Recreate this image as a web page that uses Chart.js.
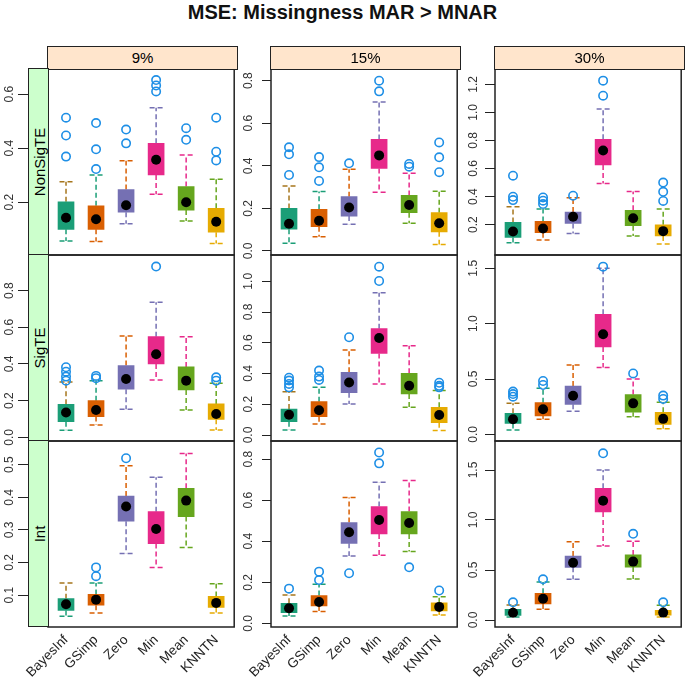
<!DOCTYPE html>
<html>
<head>
<meta charset="utf-8">
<script src="https://cdn.jsdelivr.net/npm/chart.js@4.4.0/dist/chart.umd.min.js"></script>
<style>
body { margin: 0; background: #fff; font-family: 'Liberation Sans', Arial, sans-serif; }
#fig { position: relative; width: 685px; height: 679px; overflow: hidden; }
#fig canvas { position: absolute; }
.title { position: absolute; left: 0; top: 1px; width: 685px; text-align: center; font-weight: bold; font-size: 20px; color: #111; }
.head { position: absolute; box-sizing: border-box; top: 46px; height: 24px; background: #FFE5CC; border: 1.5px solid #222; text-align: center; font-size: 15px; line-height: 21px; z-index: 2; }
.strip { position: absolute; box-sizing: border-box; left: 28px; width: 21px; height: 187px; background: #CCFFCC; border: 1.5px solid #222; z-index: 2; }
.strip span { position: absolute; left: 50%; top: 50%; transform: translate(-50%, -50%) rotate(-90deg); font-size: 15px; white-space: nowrap; }
</style>
</head>
<body>
<div id="fig"><div class="title">MSE: Missingness MAR &gt; MNAR</div></div>
<script>
const cats = ['BayesInf', 'GSimp', 'Zero', 'Min', 'Mean', 'KNNTN'];
const levels = ['9%', '15%', '30%'];
const rowNames = ['NonSigTE', 'SigTE', 'Int'];
const boxCol = ['#1B9E77', '#D95F02', '#7570B3', '#E7298A', '#66A61E', '#E6AB02'];
const upCol = ['#A6761D', '#1B9E77', '#D95F02', '#7570B3', '#E7298A', '#66A61E'];

// each row: [lower whisker, Q1, median, Q3, upper whisker]
const nonSig9 = [[0.057, 0.100, 0.143, 0.202, 0.276], [0.055, 0.100, 0.137, 0.187, 0.301], [0.121, 0.163, 0.189, 0.247, 0.354],
                 [0.230, 0.301, 0.357, 0.418, 0.550], [0.131, 0.171, 0.200, 0.258, 0.375], [0.048, 0.089, 0.128, 0.178, 0.285]];
const nonSig9Out = [[0.513, 0.447, 0.369], [0.493, 0.396, 0.323], [0.469, 0.418], [0.652, 0.632, 0.61], [0.474, 0.431], [0.513, 0.387, 0.355]];
const nonSig15 = [[0.036, 0.102, 0.128, 0.200, 0.305], [0.067, 0.114, 0.142, 0.196, 0.279], [0.125, 0.164, 0.204, 0.255, 0.384],
                  [0.276, 0.388, 0.449, 0.524, 0.700], [0.130, 0.180, 0.216, 0.261, 0.365], [0.030, 0.090, 0.130, 0.180, 0.280]];
const nonSig15Out = [[0.487, 0.454, 0.357], [0.441, 0.393, 0.329], [0.412], [0.80, 0.75], [0.409, 0.396], [0.51, 0.44, 0.37]];
const nonSig30 = [[0.071, 0.109, 0.152, 0.216, 0.328], [0.090, 0.143, 0.173, 0.223, 0.311], [0.138, 0.209, 0.257, 0.290, 0.392],
                  [0.494, 0.625, 0.729, 0.808, 1.024], [0.120, 0.193, 0.246, 0.303, 0.437], [0.063, 0.120, 0.154, 0.199, 0.311]];
const nonSig30Out = [[0.549, 0.399, 0.375], [0.394, 0.371, 0.347], [0.406], [1.226, 1.119], [], [0.50, 0.434, 0.369]];

const sig9 = [[0.038, 0.085, 0.135, 0.180, 0.302], [0.067, 0.113, 0.149, 0.200, 0.309], [0.153, 0.262, 0.318, 0.391, 0.553],
              [0.313, 0.400, 0.453, 0.549, 0.736], [0.149, 0.258, 0.309, 0.384, 0.549], [0.040, 0.098, 0.127, 0.182, 0.295]];
const sig9Out = [[0.382, 0.358, 0.331, 0.309], [0.335, 0.322], [], [0.931], [], [0.327, 0.309]];
const sig15 = [[0.033, 0.087, 0.132, 0.169, 0.282], [0.072, 0.119, 0.161, 0.217, 0.310], [0.202, 0.275, 0.341, 0.408, 0.553],
               [0.332, 0.531, 0.631, 0.692, 0.926], [0.180, 0.267, 0.321, 0.401, 0.581], [0.030, 0.080, 0.130, 0.180, 0.290]];
const sig15Out = [[0.373, 0.354, 0.332, 0.310], [0.419, 0.380, 0.358], [0.636], [1.095, 1.002], [], [0.34, 0.32, 0.31]];
const sig30 = [[0.039, 0.099, 0.136, 0.190, 0.280], [0.136, 0.166, 0.226, 0.286, 0.416], [0.208, 0.271, 0.349, 0.437, 0.627],
               [0.605, 0.789, 0.904, 1.084, 1.500], [0.160, 0.200, 0.280, 0.360, 0.500], [0.050, 0.090, 0.140, 0.200, 0.290]];
const sig30Out = [[0.386, 0.364, 0.340], [0.482, 0.446], [], [1.515], [0.55], [0.35, 0.32]];

const int9 = [[0.035, 0.053, 0.072, 0.089, 0.137], [0.045, 0.069, 0.086, 0.102, 0.137], [0.228, 0.327, 0.372, 0.404, 0.497],
              [0.185, 0.258, 0.303, 0.356, 0.462], [0.246, 0.341, 0.390, 0.428, 0.535], [0.045, 0.062, 0.076, 0.096, 0.135]];
const int9Out = [[], [0.185, 0.158], [0.52], [], [], []];
const int15 = [[0.036, 0.052, 0.073, 0.098, 0.138], [0.057, 0.085, 0.104, 0.135, 0.190], [0.328, 0.390, 0.444, 0.491, 0.613],
               [0.332, 0.436, 0.504, 0.569, 0.688], [0.350, 0.436, 0.489, 0.545, 0.696], [0.040, 0.060, 0.080, 0.100, 0.130]];
const int15Out = [[0.169], [0.252, 0.211], [0.244], [0.833, 0.780], [0.273], [0.16]];
const int30 = [[0.030, 0.045, 0.073, 0.107, 0.150], [0.107, 0.160, 0.213, 0.267, 0.380], [0.407, 0.527, 0.573, 0.640, 0.783],
               [0.740, 1.080, 1.193, 1.317, 1.500], [0.410, 0.529, 0.584, 0.651, 0.788], [0.030, 0.048, 0.074, 0.096, 0.148]];
const int30Out = [[0.177], [0.407], [], [1.667], [0.862], [0.177]];

// y axis limits and tick labels per panel
const yLim = [[0.005, 0.693], [-0.019, 0.855], [-0.016, 1.309],
              [-0.02, 0.994], [-0.039, 1.171], [-0.06, 1.62],
              [0.002, 0.573], [-0.018, 0.889], [-0.07, 1.79]];
const yTicks = [[0.2, 0.4, 0.6], [0, 0.2, 0.4, 0.6, 0.8], [0.2, 0.4, 0.6, 0.8, 1.0, 1.2],
                [0, 0.2, 0.4, 0.6, 0.8], [0, 0.2, 0.4, 0.6, 0.8, 1.0], [0, 0.5, 1.0, 1.5],
                [0.1, 0.2, 0.3, 0.4, 0.5], [0, 0.2, 0.4, 0.6, 0.8], [0, 0.5, 1.0, 1.5]];

const panels = [[nonSig9, nonSig9Out], [nonSig15, nonSig15Out], [nonSig30, nonSig30Out],
                [sig9, sig9Out], [sig15, sig15Out], [sig30, sig30Out],
                [int9, int9Out], [int15, int15Out], [int30, int30Out]];

const fig = document.getElementById('fig');
const panelLeft = [48, 271, 495], panelTop = [69, 255, 441];
const PW = 189, PH = 186;
const axisW = [48, 34, 35], tickLen = [30, 9, 10], labPad = [0, 5, 3];
const font = 'Liberation Sans';

levels.forEach((l, c) => {
  const d = document.createElement('div');
  d.className = 'head';
  d.style.left = (panelLeft[c] - 1) + 'px';
  d.style.width = (PW + 2) + 'px';
  d.textContent = l;
  fig.appendChild(d);
});
rowNames.forEach((n, r) => {
  const d = document.createElement('div');
  d.className = 'strip';
  d.style.top = (panelTop[r] - 1) + 'px';
  d.innerHTML = '<span>' + n + '</span>';
  fig.appendChild(d);
});

function makeWhiskers(stats) {
  return {
    id: 'whiskers',
    beforeDatasetsDraw(chart) {
      const {ctx, scales: {x, y}} = chart;
      ctx.save();
      ctx.lineWidth = 1.5;
      ctx.setLineDash([5, 3]);
      stats.forEach((s, i) => {
        const xp = x.getPixelForValue(i + 1);
        [[s[0], s[1], boxCol[i]], [s[4], s[3], upCol[i]]].forEach(([end, edge, col]) => {
          const ye = y.getPixelForValue(end), yb = y.getPixelForValue(edge);
          ctx.strokeStyle = col;
          ctx.beginPath();
          ctx.moveTo(xp, yb);
          ctx.lineTo(xp, ye);
          ctx.stroke();
          ctx.beginPath();
          ctx.moveTo(xp - 6.5, ye);
          ctx.lineTo(xp + 6.5, ye);
          ctx.stroke();
        });
      });
      ctx.restore();
    },
    afterDraw(chart) {
      const {ctx, chartArea: a} = chart;
      ctx.save();
      ctx.strokeStyle = '#222';
      ctx.lineWidth = 1.5;
      ctx.strokeRect(a.left, a.top, a.right - a.left, a.bottom - a.top);
      ctx.restore();
    }
  };
}

panels.forEach(([stats, outs], k) => {
  const r = Math.floor(k / 3), c = k % 3;
  const last = r === 2;
  const cv = document.createElement('canvas');
  cv.width = axisW[c] + PW + 3;
  cv.height = 12 + PH + (last ? 52 : 12);
  cv.style.left = (panelLeft[c] - axisW[c]) + 'px';
  cv.style.top = (panelTop[r] - 12) + 'px';
  fig.appendChild(cv);

  const outPts = [];
  outs.forEach((arr, i) => arr.forEach(v => outPts.push({x: i + 1, y: v})));

  new Chart(cv, {
    type: 'bar',
    data: {
      datasets: [
        {
          type: 'scatter',
          data: stats.map((s, i) => ({x: i + 1, y: s[2]})),
          pointRadius: 5,
          pointBackgroundColor: '#000',
          pointBorderWidth: 0
        },
        {
          type: 'scatter',
          data: outPts,
          pointRadius: 4.2,
          pointBackgroundColor: 'rgba(255,255,255,0)',
          pointBorderColor: '#1E8FE6',
          pointBorderWidth: 1.6
        },
        {
          type: 'bar',
          data: stats.map((s, i) => ({x: i + 1, y: [s[1], s[3]]})),
          backgroundColor: boxCol,
          barThickness: 16,
          borderWidth: 0
        }
      ]
    },
    options: {
      animation: false,
      responsive: false,
      devicePixelRatio: 1,
      layout: {padding: {top: 12, bottom: last ? 0 : 12, left: 0, right: 3}},
      plugins: {legend: {display: false}, tooltip: {enabled: false}},
      scales: {
        x: {
          type: 'linear', min: 0.4, max: 6.6, offset: false, display: last,
          grid: {display: false, drawTicks: false, offset: false}, border: {display: false},
          afterBuildTicks: s => { s.ticks = cats.map((_, i) => ({value: i + 1})); },
          ticks: {autoSkip: false, minRotation: 45, maxRotation: 45, padding: 5, color: '#222',
                  font: {size: 13.5, family: font}, callback: v => cats[v - 1]},
          afterFit: s => { s.height = last ? 52 : 0; s.paddingLeft = 0; s.paddingRight = 0; }
        },
        y: {
          type: 'linear', min: yLim[k][0], max: yLim[k][1],
          grid: {drawOnChartArea: false, drawTicks: true, tickLength: tickLen[c], color: '#222', lineWidth: 1},
          border: {display: false},
          afterBuildTicks: s => { s.ticks = yTicks[k].map(v => ({value: v})); },
          ticks: {autoSkip: false, minRotation: 90, maxRotation: 90, crossAlign: 'center', padding: labPad[c],
                  color: '#333', font: {size: 12, family: font}, callback: v => v.toFixed(1)},
          afterFit: s => { s.width = axisW[c]; s.paddingTop = 0; s.paddingBottom = 0; }
        }
      }
    },
    plugins: [makeWhiskers(stats)]
  });
});
</script>
</body>
</html>
